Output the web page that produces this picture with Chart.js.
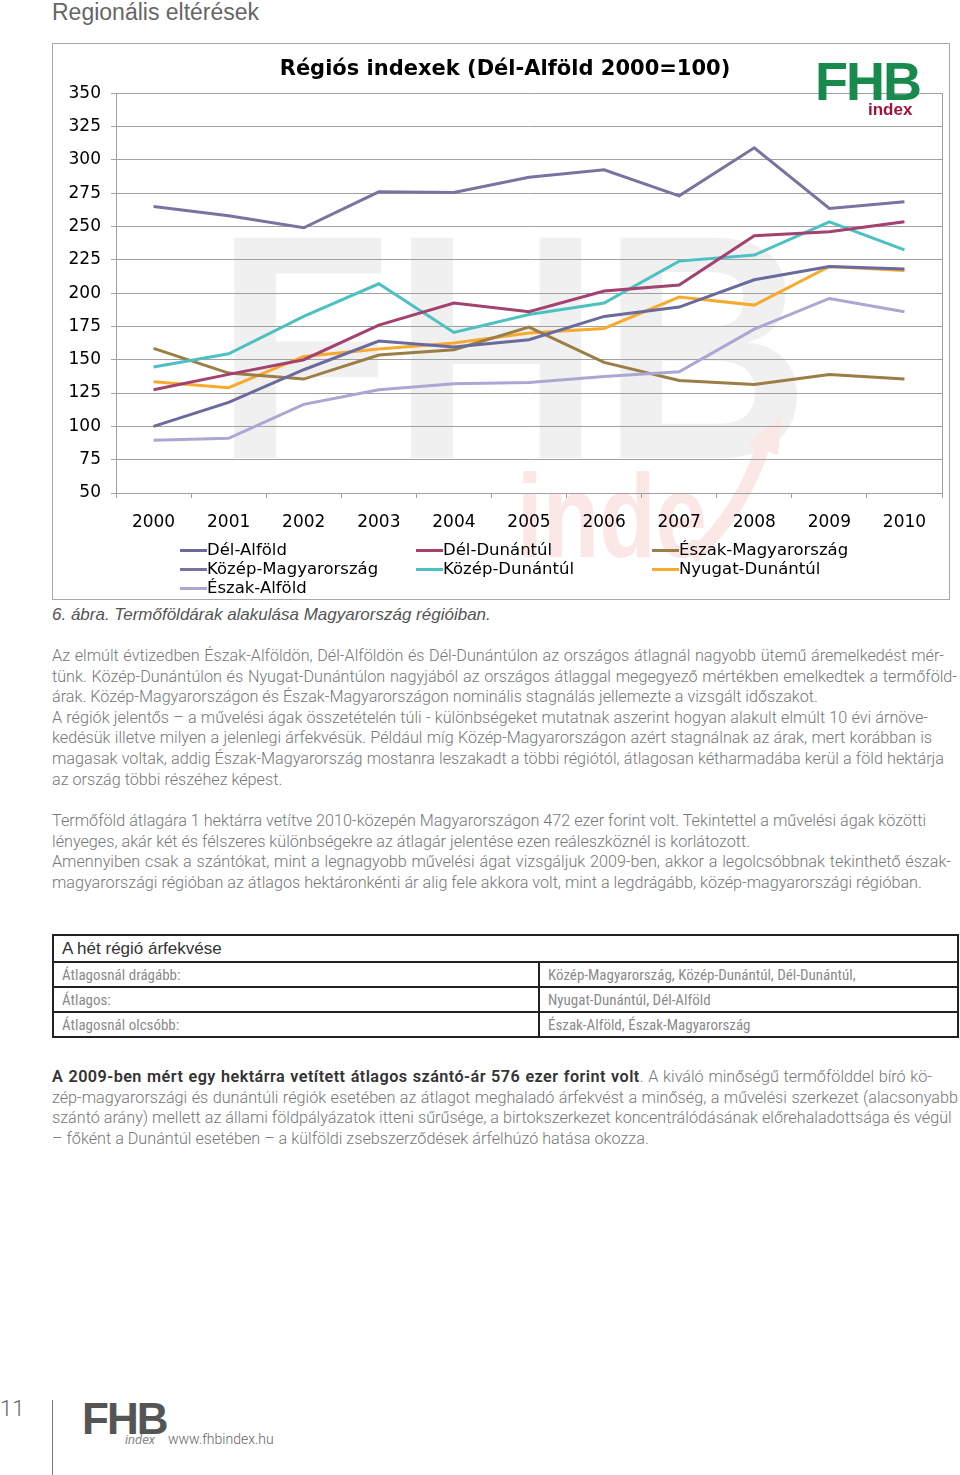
<!DOCTYPE html>
<html lang="hu">
<head>
<meta charset="utf-8">
<script src="https://cdn.jsdelivr.net/npm/chart.js@4.4.0/dist/chart.umd.min.js"></script>
<style>
  body { margin: 0; background: #fff; }
  #page { position: relative; width: 960px; height: 1475px; overflow: hidden; font-family: 'Roboto', 'Liberation Sans', sans-serif; }
  .abs { position: absolute; white-space: nowrap; }
  #heading { left: 52px; top: -1px; font-size: 23px; color: #666; font-family: 'Liberation Sans', Arial, sans-serif; }
  #box { left: 52px; top: 43px; width: 898px; height: 557px; box-sizing: border-box; border: 1px solid #a8a8a8; }
  #myChart { position: absolute; left: 52px; top: 43px; }
  .logo { font-family: 'Liberation Sans', Arial, sans-serif; font-weight: bold; line-height: 1; }
  #legend .item { position: absolute; font-family: 'DejaVu Sans', sans-serif; font-size: 16.5px; line-height: 19px; color: #000; white-space: nowrap; }
  #legend .swatch { position: absolute; height: 3px; width: 27px; }
  #caption { left: 52px; top: 605px; font-size: 17px; font-style: italic; color: #555; font-family: 'Liberation Sans', Arial, sans-serif; }
  .txt { left: 52px; font-weight: 300; font-size: 16.2px; line-height: 20.6px; color: #777; }
  .txt div { white-space: nowrap; }
  .txt div.j { text-align: justify; text-align-last: justify; }
  .txt b { font-weight: 600; color: #333; letter-spacing: 0.45px; }
  table { position: absolute; left: 52px; top: 934px; width: 907px; border-collapse: collapse; font-family: 'Liberation Sans Narrow', 'Roboto Condensed', 'Liberation Sans', sans-serif; }
  td { border: 2px solid #222; padding: 0 8px; height: 23px; font-size: 15px; color: #8a8a8a; }
  td.head { font-family: 'Liberation Sans', Arial, sans-serif; font-size: 17px; color: #333; height: 25px; }
</style>
</head>
<body>
<div id="page">
  <div id="heading" class="abs">Regionális eltérések</div>
  <div id="box" class="abs"></div>
  <canvas id="myChart" width="898" height="557"></canvas>
  <div class="abs logo" style="left:815px;top:54px;font-size:54px;color:#188a4e;letter-spacing:-2px;">FHB</div>
  <div class="abs logo" style="left:868px;top:101px;font-size:17px;color:#a0143c;">index</div>
  <div id="legend"></div>
  <div id="caption" class="abs">6. ábra. Termőföldárak alakulása Magyarország régióiban.</div>

  <div class="abs txt" style="top:646px;">
    <div class="j" style="width:892px">Az elmúlt évtizedben Észak-Alföldön, Dél-Alföldön és Dél-Dunántúlon az országos átlagnál nagyobb ütemű áremelkedést mér-</div>
    <div class="j" style="width:905px">tünk. Közép-Dunántúlon és Nyugat-Dunántúlon nagyjából az országos átlaggal megegyező mértékben emelkedtek a termőföld-</div>
    <div>árak. Közép-Magyarországon és Észak-Magyarországon nominális stagnálás jellemezte a vizsgált időszakot.</div>
    <div class="j" style="width:876px">A régiók jelentős – a művelési ágak összetételén túli - különbségeket mutatnak aszerint hogyan alakult elmúlt 10 évi árnöve-</div>
    <div class="j" style="width:880px">kedésük illetve milyen a jelenlegi árfekvésük. Például míg Közép-Magyarországon azért stagnálnak az árak, mert korábban is</div>
    <div class="j" style="width:892px">magasak voltak, addig Észak-Magyarország mostanra leszakadt a többi régiótól, átlagosan kétharmadába kerül a föld hektárja</div>
    <div>az ország többi részéhez képest.</div>
  </div>

  <div class="abs txt" style="top:811px;">
    <div class="j" style="width:874px">Termőföld átlagára 1 hektárra vetítve 2010-közepén Magyarországon 472 ezer forint volt. Tekintettel a művelési ágak közötti</div>
    <div>lényeges, akár két és félszeres különbségekre az átlagár jelentése ezen reáleszköznél is korlátozott.</div>
    <div class="j" style="width:899px">Amennyiben csak a szántókat, mint a legnagyobb művelési ágat vizsgáljuk 2009-ben, akkor a legolcsóbbnak tekinthető észak-</div>
    <div>magyarországi régióban az átlagos hektáronkénti ár alig fele akkora volt, mint a legdrágább, közép-magyarországi régióban.</div>
  </div>

  <table>
    <tr><td class="head" colspan="2">A hét régió árfekvése</td></tr>
    <tr><td style="width:468px">Átlagosnál drágább:</td><td>Közép-Magyarország, Közép-Dunántúl, Dél-Dunántúl,</td></tr>
    <tr><td>Átlagos:</td><td>Nyugat-Dunántúl, Dél-Alföld</td></tr>
    <tr><td>Átlagosnál olcsóbb:</td><td>Észak-Alföld, Észak-Magyarország</td></tr>
  </table>

  <div class="abs txt" style="top:1067px;">
    <div class="j" style="width:880px"><b>A 2009-ben mért egy hektárra vetített átlagos szántó-ár 576 ezer forint volt</b>. A kiváló minőségű termőfölddel bíró kö-</div>
    <div class="j" style="width:906px">zép-magyarországi és dunántúli régiók esetében az átlagot meghaladó árfekvést a minőség, a művelési szerkezet (alacsonyabb</div>
    <div class="j" style="width:895px">szántó arány) mellett az állami földpályázatok itteni sűrűsége, a birtokszerkezet koncentrálódásának előrehaladottsága és végül</div>
    <div>– főként a Dunántúl esetében – a külföldi zsebszerződések árfelhúzó hatása okozza.</div>
  </div>

  <div class="abs" style="left:0;top:1396px;font-size:22px;font-weight:300;color:#666;">11</div>
  <div class="abs" style="left:52px;top:1400px;width:1px;height:75px;background:#777;"></div>
  <div class="abs logo" style="left:82px;top:1397px;font-size:44px;color:#555;letter-spacing:-2px;">FHB</div>
  <div class="abs" style="left:125px;top:1432px;font-size:13px;color:#888;font-style:italic;">index</div>
  <div class="abs" style="left:168px;top:1431px;font-size:14px;font-weight:300;color:#666;">www.fhbindex.hu</div>
</div>

<script>
const years = ['2000', '2001', '2002', '2003', '2004', '2005', '2006', '2007', '2008', '2009', '2010'];

const delAlfold      = [100, 118, 142.5, 164, 159.5, 165, 182.5, 189.5, 210, 220, 218];
const kozepMagyar    = [265, 258, 249, 276, 275.5, 287, 292.5, 273, 309, 263.5, 268.5];
const eszakAlfold    = [89.5, 91, 116.5, 127.5, 132, 133, 137.5, 141, 173, 196, 186];
const delDunantul    = [127.5, 139, 150, 176, 192.5, 186, 201.5, 206, 243, 246, 253.5];
const kozepDunantul  = [144.5, 154.5, 182.5, 207, 170.5, 184, 192.5, 224, 228.5, 253.5, 232.5];
const eszakMagyar    = [158.5, 140, 135.5, 153.5, 157.5, 174.5, 148, 134.5, 131.5, 139, 135.5];
const nyugatDunantul = [133.5, 129, 152.5, 158, 162.5, 170, 173.5, 197, 191, 220, 217];

const yTicks = { min: 50, max: 350, step: 25 };

// legend slots: [column, row]
const legendSlots = [[0, 0], [0, 1], [0, 2], [1, 0], [1, 1], [2, 0], [2, 1]];

Chart.defaults.font.family = "'DejaVu Sans', sans-serif";
Chart.defaults.color = '#000';

const line = (label, data, color) => ({
  label: label,
  data: data,
  borderColor: color,
  backgroundColor: color,
  borderWidth: 3,
  pointRadius: 0,
  fill: false,
  tension: 0
});

// light FHB / index watermark behind the grid
const watermark = {
  id: 'watermark',
  beforeDraw(chart) {
    const ctx = chart.ctx;
    ctx.save();
    ctx.font = "bold 320px 'Liberation Sans', Arial, sans-serif";
    ctx.fillStyle = '#f0f0f0';
    let w = ctx.measureText('FHB').width;
    ctx.translate(163, 415);
    ctx.scale(595 / w, 1);
    ctx.fillText('FHB', 0, 0);
    ctx.restore();

    ctx.save();
    ctx.font = "bold 118px 'Liberation Sans', Arial, sans-serif";
    ctx.fillStyle = '#fce7e7';
    w = ctx.measureText('inde').width;
    ctx.translate(465, 514);
    ctx.scale(190 / w, 1);
    ctx.fillText('inde', 0, 0);
    ctx.restore();

    ctx.save();
    ctx.strokeStyle = '#fce7e7';
    ctx.fillStyle = '#fce7e7';
    ctx.lineWidth = 14;
    ctx.beginPath();
    ctx.moveTo(640, 514);
    ctx.quadraticCurveTo(690, 470, 712, 400);
    ctx.stroke();
    ctx.beginPath();
    ctx.moveTo(730, 372);
    ctx.lineTo(696, 402);
    ctx.lineTo(726, 412);
    ctx.closePath();
    ctx.fill();
    ctx.restore();
  }
};

const ctx = document.getElementById('myChart').getContext('2d');

const myChart = new Chart(ctx, {
  type: 'line',
  data: {
    labels: years,
    datasets: [
      line('Dél-Alföld', delAlfold, '#6b6a9e'),
      line('Közép-Magyarország', kozepMagyar, '#77749f'),
      line('Észak-Alföld', eszakAlfold, '#aaa7d3'),
      line('Dél-Dunántúl', delDunantul, '#a3416f'),
      line('Közép-Dunántúl', kozepDunantul, '#4dc0c2'),
      line('Észak-Magyarország', eszakMagyar, '#9a7e45'),
      line('Nyugat-Dunántúl', nyugatDunantul, '#f6ab2e')
    ]
  },
  options: {
    responsive: false,
    animation: false,
    layout: { padding: { left: 16, right: 8, top: 0, bottom: 67 } },
    plugins: {
      legend: { display: false },
      tooltip: { enabled: false },
      title: {
        display: true,
        text: 'Régiós indexek (Dél-Alföld 2000=100)',
        font: { size: 21, weight: 'bold' },
        color: '#000',
        padding: { top: 14, bottom: 11 }
      }
    },
    scales: {
      x: {
        offset: true,
        afterFit: (s) => { s.height = 40; },
        grid: { offset: true, drawOnChartArea: false, tickLength: 5, color: '#a0a0a0' },
        border: { color: '#a0a0a0' },
        ticks: { font: { size: 17 }, padding: 14, maxRotation: 0, autoSkip: false }
      },
      y: {
        min: yTicks.min,
        max: yTicks.max,
        afterFit: (s) => { s.width = 48; },
        grid: { color: '#a0a0a0', tickLength: 5 },
        border: { color: '#a0a0a0' },
        ticks: { stepSize: yTicks.step, font: { size: 17 }, padding: 10 }
      },
      y2: {
        position: 'right',
        afterFit: (s) => { s.width = 0; },
        grid: { drawOnChartArea: false, drawTicks: false },
        border: { display: true, color: '#a0a0a0' },
        ticks: { display: false }
      }
    }
  },
  plugins: [watermark]
});

// legend in three columns, built from the chart's datasets
const legend = document.getElementById('legend');
const colX = [180, 416, 652];
const rowY = [540, 559, 578];
myChart.data.datasets.forEach((ds, i) => {
  const [col, row] = legendSlots[i];
  const sw = document.createElement('div');
  sw.className = 'swatch abs';
  sw.style.left = colX[col] + 'px';
  sw.style.top = (rowY[row] + 9) + 'px';
  sw.style.background = ds.borderColor;
  legend.appendChild(sw);
  const t = document.createElement('div');
  t.className = 'item';
  t.style.left = (colX[col] + 27) + 'px';
  t.style.top = rowY[row] + 'px';
  t.textContent = ds.label;
  legend.appendChild(t);
});
</script>
</body>
</html>
